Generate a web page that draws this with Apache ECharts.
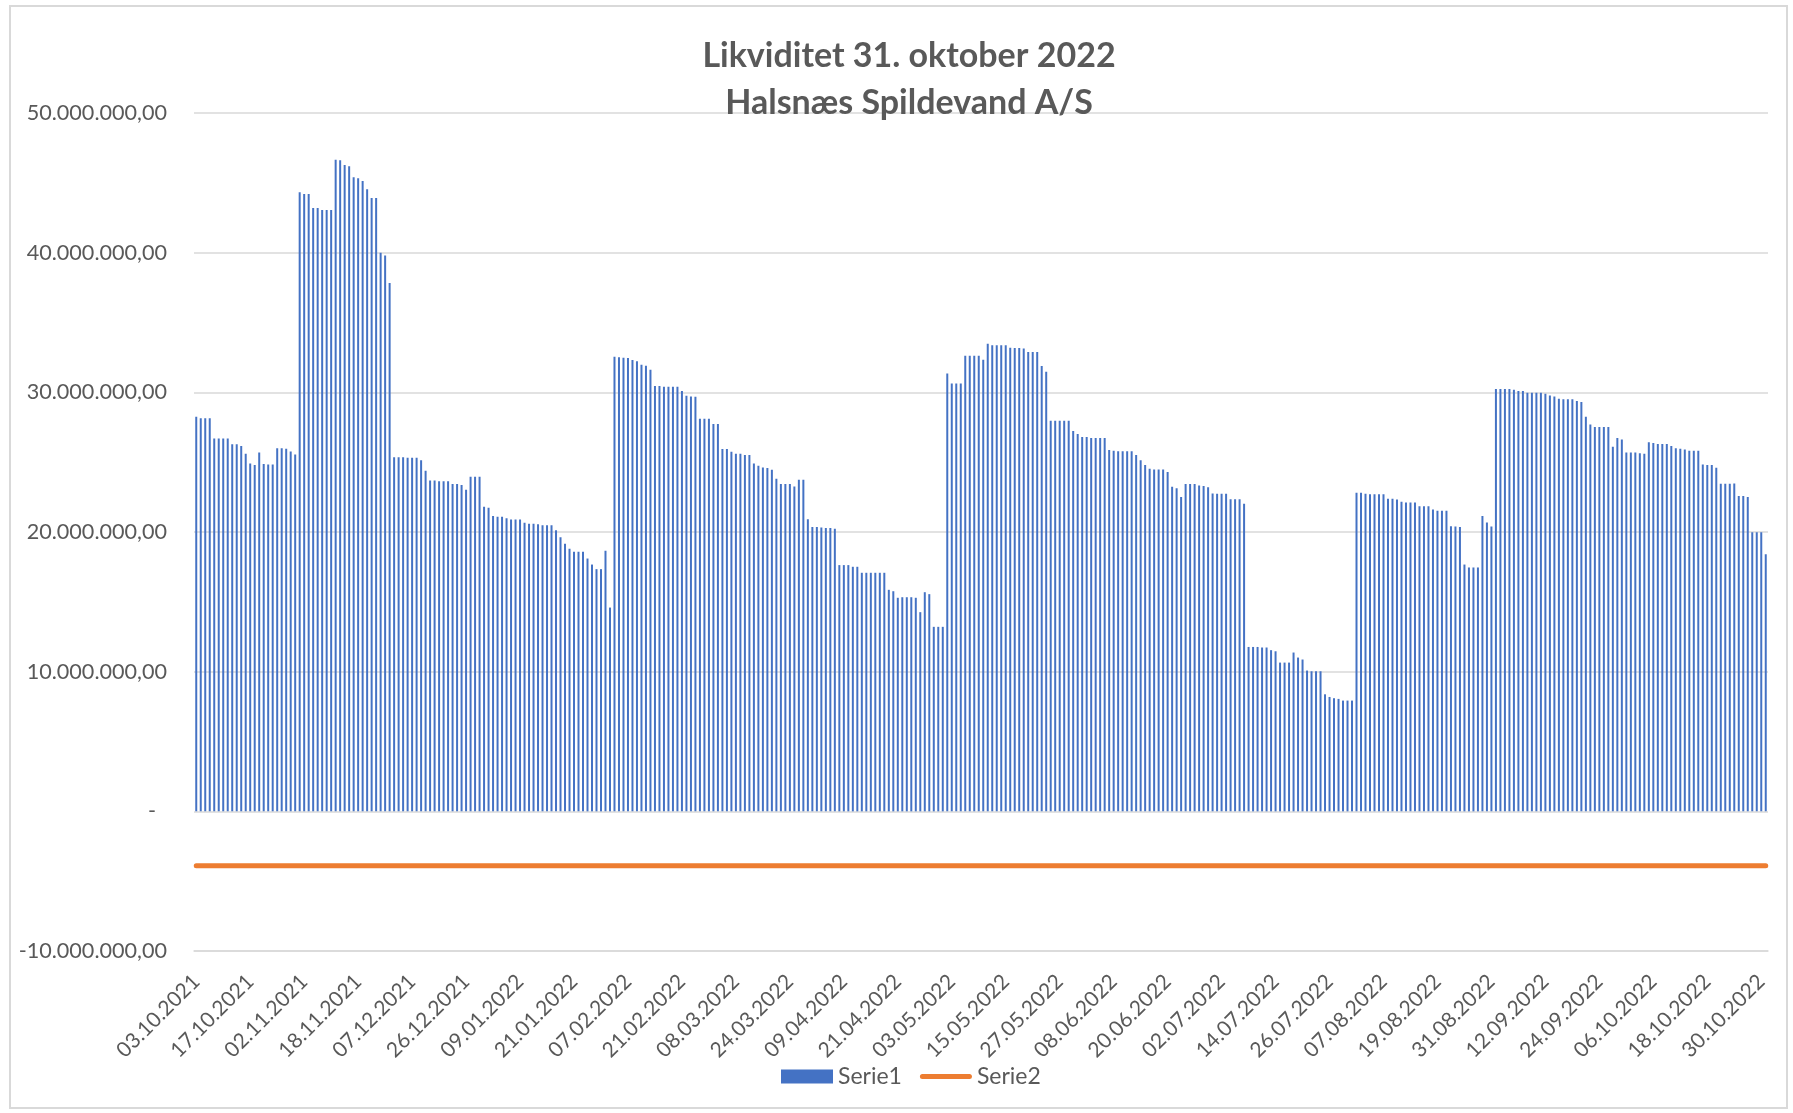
<!DOCTYPE html>
<html>
<head>
<meta charset="utf-8">
<title>Likviditet 31. oktober 2022</title>
<script src="https://cdn.jsdelivr.net/npm/echarts@6/dist/echarts.min.js"></script>
<style>
  html, body { margin: 0; padding: 0; background: #fff; }
  #wrap { position: relative; width: 1793px; height: 1113px; }
  #chart { width: 1793px; height: 1113px; }
  #frame {
    position: absolute; left: 9px; top: 5px; width: 1775px; height: 1100px;
    border: 2px solid #d9d9d9; pointer-events: none;
  }
</style>
</head>
<body>
<div id="wrap">
  <div id="chart"></div>
  <div id="frame"></div>
</div>
<script>
// aflæste værdier, mio. kr. pr. dag (350 dage)
const serie1Mio = [
  28.26, 28.14, 28.14, 28.14, 26.69, 26.69, 26.69, 26.69, 26.28, 26.28, 26.15, 25.60,
  24.90, 24.80, 25.70, 24.86, 24.83, 24.83, 26.00, 26.00, 25.96, 25.77, 25.55, 44.32,
  44.20, 44.20, 43.19, 43.19, 43.06, 43.06, 43.06, 46.66, 46.62, 46.28, 46.18, 45.40,
  45.33, 45.14, 44.54, 43.91, 43.91, 40.00, 39.80, 37.82, 25.36, 25.36, 25.36, 25.32,
  25.32, 25.32, 25.13, 24.39, 23.69, 23.69, 23.64, 23.64, 23.64, 23.43, 23.43, 23.36,
  23.02, 23.95, 23.95, 23.95, 21.81, 21.73, 21.14, 21.09, 21.09, 20.99, 20.90, 20.90,
  20.90, 20.66, 20.59, 20.59, 20.56, 20.49, 20.49, 20.49, 20.13, 19.63, 19.15, 18.80,
  18.58, 18.58, 18.58, 18.10, 17.67, 17.34, 17.34, 18.65, 14.59, 32.55, 32.51, 32.48,
  32.46, 32.31, 32.22, 31.98, 31.91, 31.62, 30.45, 30.45, 30.40, 30.40, 30.40, 30.40,
  30.09, 29.76, 29.71, 29.69, 28.11, 28.11, 28.11, 27.73, 27.73, 25.94, 25.94, 25.75,
  25.60, 25.60, 25.51, 25.51, 24.91, 24.74, 24.62, 24.58, 24.46, 23.81, 23.43, 23.43,
  23.43, 23.26, 23.74, 23.74, 20.92, 20.35, 20.35, 20.32, 20.28, 20.28, 20.23, 17.63,
  17.63, 17.63, 17.51, 17.51, 17.08, 17.08, 17.08, 17.08, 17.08, 17.08, 15.86, 15.76,
  15.29, 15.33, 15.33, 15.33, 15.29, 14.26, 15.69, 15.55, 13.21, 13.21, 13.21, 31.34,
  30.64, 30.64, 30.64, 32.62, 32.62, 32.62, 32.62, 32.34, 33.48, 33.37, 33.37, 33.37,
  33.37, 33.20, 33.17, 33.17, 33.13, 32.89, 32.89, 32.89, 31.88, 31.48, 27.97, 27.97,
  27.97, 27.97, 27.97, 27.23, 27.01, 26.80, 26.80, 26.73, 26.73, 26.73, 26.73, 25.87,
  25.82, 25.79, 25.79, 25.79, 25.79, 25.51, 25.13, 24.79, 24.53, 24.48, 24.48, 24.48,
  24.29, 23.24, 23.14, 22.50, 23.43, 23.43, 23.43, 23.33, 23.29, 23.21, 22.76, 22.74,
  22.74, 22.74, 22.35, 22.35, 22.35, 22.02, 11.77, 11.77, 11.77, 11.73, 11.73, 11.54,
  11.46, 10.65, 10.65, 10.65, 11.37, 11.01, 10.87, 10.08, 10.03, 10.03, 10.03, 8.38,
  8.19, 8.10, 8.05, 7.93, 7.93, 7.93, 22.81, 22.81, 22.74, 22.71, 22.71, 22.71,
  22.71, 22.38, 22.38, 22.33, 22.16, 22.12, 22.12, 22.12, 21.85, 21.85, 21.85, 21.61,
  21.52, 21.52, 21.52, 20.42, 20.40, 20.35, 17.67, 17.46, 17.46, 17.46, 21.14, 20.68,
  20.40, 30.24, 30.24, 30.24, 30.24, 30.19, 30.09, 30.09, 29.97, 29.97, 29.97, 29.97,
  29.90, 29.78, 29.71, 29.54, 29.50, 29.50, 29.50, 29.38, 29.31, 28.25, 27.70, 27.51,
  27.51, 27.51, 27.51, 26.10, 26.73, 26.63, 25.70, 25.70, 25.70, 25.63, 25.60, 26.42,
  26.37, 26.30, 26.30, 26.30, 26.15, 25.99, 25.96, 25.91, 25.82, 25.82, 25.82, 24.84,
  24.79, 24.79, 24.60, 23.45, 23.45, 23.45, 23.48, 22.57, 22.57, 22.50, 19.99, 19.99,
  19.99, 18.41
]

// Serie2 er en vandret linje
const serie2Level = -3900000

// datoer der står på x-aksen (hver 12. kategori)
const tickLabels = [
  '03.10.2021', '17.10.2021', '02.11.2021', '18.11.2021', '07.12.2021', '26.12.2021',
  '09.01.2022', '21.01.2022', '07.02.2022', '21.02.2022', '08.03.2022', '24.03.2022',
  '09.04.2022', '21.04.2022', '03.05.2022', '15.05.2022', '27.05.2022', '08.06.2022',
  '20.06.2022', '02.07.2022', '14.07.2022', '26.07.2022', '07.08.2022', '19.08.2022',
  '31.08.2022', '12.09.2022', '24.09.2022', '06.10.2022', '18.10.2022', '30.10.2022'
]
const labelStep = 12

const yTicks = { min: -10000000, max: 50000000, interval: 10000000 }

const categories = serie1Mio.map((v, i) => (i % labelStep === 0 ? tickLabels[i / labelStep] : ''))
const serie1 = serie1Mio.map((v) => v * 1000000)
const serie2 = serie1Mio.map(() => serie2Level)

// dansk talformat: 10.000.000,00 og "-" for nul
function fmtDk(v) {
  if (v === 0) return '{z|-}'
  const neg = v < 0
  const parts = Math.abs(v).toFixed(2).split('.')
  const int = parts[0].replace(/\B(?=(\d{3})+(?!\d))/g, '.')
  return (neg ? '-' : '') + int + ',' + parts[1]
}

const font = 'Lato'
const grey = '#595959'
// tyk streg med runde ender til Serie2 i forklaringen
const lineIcon = 'path://M0,0L0,0M52,14L52,14M2.5,4.5L49.5,4.5A2.5,2.5,0,0,1,49.5,9.5L2.5,9.5A2.5,2.5,0,0,1,2.5,4.5Z'

const chart = echarts.init(document.getElementById('chart'))
const option = {
  animation: false,
  backgroundColor: '#fff',
  title: {
    text: 'Likviditet 31. oktober 2022\nHalsnæs Spildevand A/S',
    left: 909,
    top: 33,
    padding: 0,
    textAlign: 'center',
    textStyle: {
      fontFamily: font,
      fontWeight: 'bold',
      fontSize: 34,
      lineHeight: 47,
      color: grey
    }
  },
  legend: {
    left: 781,
    top: 1065,
    padding: 0,
    itemWidth: 52,
    itemHeight: 14,
    itemGap: 18,
    textStyle: { fontFamily: font, fontSize: 23, color: grey },
    data: [
      { name: 'Serie1', icon: 'rect' },
      { name: 'Serie2', icon: lineIcon }
    ]
  },
  grid: {
    left: 194,
    right: 25,
    top: 113,
    bottom: 162,
    containLabel: false
  },
  xAxis: {
    type: 'category',
    data: categories,
    boundaryGap: true,
    axisLine: { onZero: false, lineStyle: { color: '#d9d9d9', width: 1.5 } },
    axisTick: { show: false },
    axisLabel: {
      interval: labelStep - 1,
      rotate: 45,
      margin: 27,
      fontFamily: font,
      fontSize: 21,
      color: grey
    }
  },
  yAxis: {
    type: 'value',
    min: yTicks.min,
    max: yTicks.max,
    interval: yTicks.interval,
    axisLine: { show: false },
    axisTick: { show: false },
    splitLine: { lineStyle: { color: '#d9d9d9', width: 1.5 } },
    axisLabel: {
      margin: 27,
      fontFamily: font,
      fontSize: 21.6,
      color: grey,
      formatter: fmtDk,
      rich: { z: { fontFamily: font, fontSize: 21.6, color: grey, padding: [0, 11, 0, 0] } }
    }
  },
  series: [
    {
      name: 'Serie1',
      type: 'bar',
      barWidth: 2,
      itemStyle: { color: '#4472c4' },
      data: serie1
    },
    {
      name: 'Serie2',
      type: 'line',
      symbol: 'none',
      z: 3,
      lineStyle: { color: '#ed7d31', width: 5, cap: 'round' },
      itemStyle: { color: '#ed7d31' },
      data: serie2
    }
  ]
}
chart.setOption(option)
</script>
</body>
</html>
